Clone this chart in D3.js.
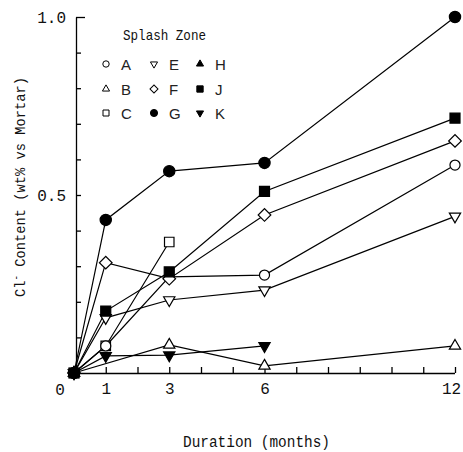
<!DOCTYPE html>
<html>
<head>
<meta charset="utf-8">
<script src="https://cdn.jsdelivr.net/npm/d3@7"></script>
<style>
  body { margin: 0; background: #fff; }
  svg { display: block; }
</style>
</head>
<body>
<div id="chart"></div>
<script>
// values (Cl- wt% vs mortar, splash zone)
var seriesNames = ["C", "B", "K", "E", "A", "F", "J", "H", "G"];
var monthsA = [0, 1, 3, 6, 12], valuesA = [0, 0.076, 0.27, 0.275, 0.584];
var monthsB = [0, 3, 6, 12],    valuesB = [0, 0.079, 0.02, 0.076];
var monthsC = [0, 1, 3],        valuesC = [0, 0.076, 0.368];
var monthsE = [0, 1, 3, 6, 12], valuesE = [0, 0.155, 0.205, 0.233, 0.44];
var monthsF = [0, 1, 3, 6, 12], valuesF = [0, 0.31, 0.265, 0.444, 0.652];
var monthsG = [0, 1, 3, 6, 12], valuesG = [0, 0.43, 0.567, 0.59, 1.0];
var monthsH = [0],              valuesH = [0];
var monthsJ = [0, 1, 3, 6, 12], valuesJ = [0, 0.174, 0.284, 0.51, 0.716];
var monthsK = [0, 1, 3, 6],     valuesK = [0, 0.048, 0.05, 0.076];

var xTickValues = [1, 2, 3, 4, 5, 6, 7, 8, 9, 10, 11, 12];
var xTickLabels = [1, 3, 6, 12];
var yTickValues = [0.1, 0.2, 0.3, 0.4, 0.5, 0.6, 0.7, 0.8, 0.9, 1.0];
var yTickLabels = [0.5, 1.0];

// legend layout (3 columns x 3 rows)
var legendRows = [["A", "E", "H"], ["B", "F", "J"], ["C", "G", "K"]];

var width = 463, height = 452;
var svg = d3.select("#chart").append("svg")
    .attr("width", width)
    .attr("height", height);

var x = d3.scaleLinear().domain([0, 12]).range([74, 455]);
var y = d3.scaleLinear().domain([0, 1]).range([373, 17]);

var monoFont = "'Liberation Mono', 'DejaVu Sans Mono', monospace";

// marker styles per series
var markers = {
    A: { type: d3.symbolCircle, size: 80, fill: "#fff", rot: 0 },
    B: { type: d3.symbolTriangle, size: 55, fill: "#fff", rot: 0 },
    C: { type: d3.symbolSquare, size: 90, fill: "#fff", rot: 0 },
    E: { type: d3.symbolTriangle, size: 55, fill: "#fff", rot: 180 },
    F: { type: d3.symbolSquare, size: 80, fill: "#fff", rot: 45 },
    G: { type: d3.symbolCircle, size: 100, fill: "#000", rot: 0 },
    H: { type: d3.symbolTriangle, size: 55, fill: "#000", rot: 0 },
    J: { type: d3.symbolSquare, size: 100, fill: "#000", rot: 0 },
    K: { type: d3.symbolTriangle, size: 55, fill: "#000", rot: 180 }
};

var table = {
    A: [monthsA, valuesA], B: [monthsB, valuesB], C: [monthsC, valuesC],
    E: [monthsE, valuesE], F: [monthsF, valuesF], G: [monthsG, valuesG],
    H: [monthsH, valuesH], J: [monthsJ, valuesJ], K: [monthsK, valuesK]
};

var series = seriesNames.map(function (name) {
    var m = table[name][0], v = table[name][1];
    return { name: name, points: m.map(function (d, i) { return { month: d, value: v[i] }; }) };
});

// axes
var yAxis = svg.append("g")
    .attr("transform", "translate(76,0)")
    .call(d3.axisLeft(y)
        .tickValues(yTickValues)
        .tickSizeInner(-5)
        .tickSizeOuter(0)
        .tickPadding(10)
        .tickFormat(function (d) { return yTickLabels.indexOf(d) >= 0 ? d3.format(".1f")(d) : ""; }));
yAxis.selectAll("line").filter(function (d) { return d === 1.0; }).attr("x2", 9);
yAxis.selectAll("text")
    .attr("font-family", monoFont)
    .attr("font-size", 16)
    .attr("fill", "#111");

var xAxis = svg.append("g")
    .attr("transform", "translate(0,373)")
    .call(d3.axisBottom(x)
        .tickValues(xTickValues)
        .tickSizeInner(-6)
        .tickSizeOuter(0)
        .tickPadding(10)
        .tickFormat(function (d) { return xTickLabels.indexOf(d) >= 0 ? d : ""; }));
xAxis.select(".domain").attr("d", "M76,0.5H" + x(12));
xAxis.selectAll("text")
    .attr("font-family", monoFont)
    .attr("font-size", 16)
    .attr("fill", "#111");
// keep the last label inside the window
xAxis.selectAll("text").filter(function (d) { return d === 12; }).attr("dx", -4);
svg.selectAll(".domain, .tick line").attr("stroke", "#000").attr("stroke-width", 1.3);

// origin label
svg.append("text")
    .attr("x", 60).attr("y", 395)
    .attr("text-anchor", "middle")
    .attr("font-family", monoFont)
    .attr("font-size", 16)
    .attr("fill", "#111")
    .text("0");

// axis titles
svg.append("text")
    .attr("x", 183).attr("y", 447)
    .attr("font-family", monoFont)
    .attr("font-size", 16)
    .attr("textLength", 147)
    .attr("lengthAdjust", "spacingAndGlyphs")
    .attr("fill", "#111")
    .text("Duration (months)");

var yTitle = svg.append("text")
    .attr("transform", "translate(25,297) rotate(-90)")
    .attr("font-family", monoFont)
    .attr("font-size", 15)
    .attr("fill", "#111");
yTitle.append("tspan").text("Cl");
yTitle.append("tspan").attr("dy", -6).attr("font-size", 10).text("-");
yTitle.append("tspan").attr("dy", 6).text(" Content (wt% vs Mortar)");
yTitle.attr("textLength", 220).attr("lengthAdjust", "spacingAndGlyphs");

// lines
var line = d3.line()
    .x(function (d) { return x(d.month); })
    .y(function (d) { return y(d.value); });

svg.append("g").selectAll("path")
    .data(series)
    .enter()
    .append("path")
    .attr("d", function (d) { return line(d.points); })
    .attr("fill", "none")
    .attr("stroke", "#000")
    .attr("stroke-width", 1.2);

// markers
var groups = svg.append("g").selectAll("g")
    .data(series)
    .enter()
    .append("g");

groups.selectAll("path")
    .data(function (d) { return d.points.map(function (p) { return { name: d.name, month: p.month, value: p.value }; }); })
    .enter()
    .append("path")
    .attr("d", function (d) { return d3.symbol().type(markers[d.name].type).size(markers[d.name].size)(); })
    .attr("transform", function (d) {
        return "translate(" + x(d.month) + "," + y(d.value) + ") rotate(" + markers[d.name].rot + ")";
    })
    .attr("fill", function (d) { return markers[d.name].fill; })
    .attr("stroke", "#000")
    .attr("stroke-width", 1.2);

// legend
var legend = svg.append("g");
legend.append("text")
    .attr("x", 123).attr("y", 40)
    .attr("font-family", monoFont)
    .attr("font-size", 15)
    .attr("textLength", 83)
    .attr("lengthAdjust", "spacingAndGlyphs")
    .attr("fill", "#111")
    .text("Splash Zone");

var colX = [106, 154, 200];
var rowY = [64, 89, 113];
legendRows.forEach(function (row, r) {
    row.forEach(function (name, c) {
        var m = markers[name];
        legend.append("path")
            .attr("d", d3.symbol().type(m.type).size(m.size * 0.4)())
            .attr("transform", "translate(" + colX[c] + "," + rowY[r] + ") rotate(" + m.rot + ")")
            .attr("fill", m.fill)
            .attr("stroke", "#000")
            .attr("stroke-width", 1);
        legend.append("text")
            .attr("x", colX[c] + 15).attr("y", rowY[r] + 6)
            .attr("font-family", "'Liberation Sans', Arial, sans-serif")
            .attr("font-size", 15)
            .attr("fill", "#222")
            .text(name);
    });
});
</script>
</body>
</html>
